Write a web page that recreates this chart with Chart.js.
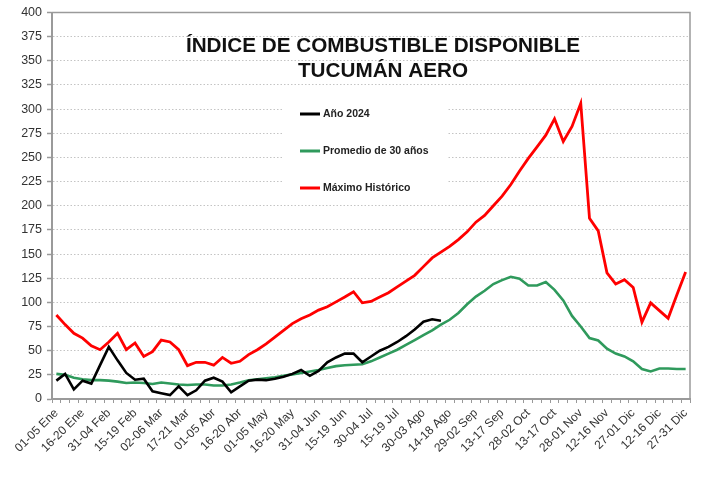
<!DOCTYPE html>
<html><head><meta charset="utf-8">
<script src="https://cdn.jsdelivr.net/npm/chart.js@4.4.1/dist/chart.umd.min.js"></script>
<style>html,body{margin:0;padding:0;background:#fff}#wrap{width:706px;height:477px;position:relative}</style>
</head><body><div id="wrap"><canvas id="c" width="706" height="477"></canvas></div>
<script>
// ---- categories (pentads) ----
const CATEGORIES = [
 '01-05 Ene','06-10 Ene','11-15 Ene','16-20 Ene','21-25 Ene','26-30 Ene',
 '31-04 Feb','05-09 Feb','10-14 Feb','15-19 Feb','20-24 Feb','25-01 Mar',
 '02-06 Mar','07-11 Mar','12-16 Mar','17-21 Mar','22-26 Mar','27-31 Mar',
 '01-05 Abr','06-10 Abr','11-15 Abr','16-20 Abr','21-25 Abr','26-30 Abr',
 '01-05 May','06-10 May','11-15 May','16-20 May','21-25 May','26-30 May',
 '31-04 Jun','05-09 Jun','10-14 Jun','15-19 Jun','20-24 Jun','25-29 Jun',
 '30-04 Jul','05-09 Jul','10-14 Jul','15-19 Jul','20-24 Jul','25-29 Jul',
 '30-03 Ago','04-08 Ago','09-13 Ago','14-18 Ago','19-23 Ago','24-28 Ago',
 '29-02 Sep','03-07 Sep','08-12 Sep','13-17 Sep','18-22 Sep','23-27 Sep',
 '28-02 Oct','03-07 Oct','08-12 Oct','13-17 Oct','18-22 Oct','23-27 Oct',
 '28-01 Nov','02-06 Nov','07-11 Nov','12-16 Nov','17-21 Nov','22-26 Nov',
 '27-01 Dic','02-06 Dic','07-11 Dic','12-16 Dic','17-21 Dic','22-26 Dic',
 '27-31 Dic'
];
const LABEL_EVERY = 3;
const Y_MIN = 0, Y_MAX = 400, Y_STEP = 25;
const TITLE_LINES = ['ÍNDICE DE COMBUSTIBLE DISPONIBLE', 'TUCUMÁN AERO'];
const SERIES_NAMES = ['Año 2024', 'Promedio de 30 años', 'Máximo Histórico'];

// ---- series values ----
const ANO_2024 = [19,26,10,19,16,35,54,40,27,20,21,8,6,4,13,4,9,19,22,18,7,13,19,20,19.5,21,23,26,30,24,29,38,43,47,47,38,44,50,54,59,65,72,80,82.5,81];
const PROMEDIO_30 = [26,25,22,20.5,19.5,19.5,19,18,16.5,17,16.5,15.5,17,16,15,14.5,15,15,14,14,15,17,19.5,20.5,21.5,22.5,24,25.5,27,28.5,30,32,34,35,35.5,36,39,43,47,51,56,61,66,71,77,82,89,98,106,112,119,123,126.5,124.5,117.5,117.5,121,113,102,86,75,63,60.5,52,47,44,39,31,28.5,31.5,31.5,31,31];
const MAXIMO_HIST = [87,77,68,63,55,51,59,68,51,58,44,49,61,59,51,34.5,38,38,35,43,37,39,46,51,57,64,71,78,83,87,92,95.5,100.5,105.5,111,99.5,101,105.5,110,116,122,128,137,146,152,158,165,173,183,190,200,210,222,236,249,261,273,290,266.5,282,306,187,174,130.5,119,123.5,115.5,79.5,99.5,91.5,83.5,108,131.5];

const COLORS = ['#000000', '#2f9a5c', '#ff0000'];

const overlay = {
  id: 'overlay',
  beforeDatasetsDraw(chart) {
    const ctx = chart.ctx, a = chart.chartArea;
    ctx.save();
    // legend box
    ctx.fillStyle = '#ffffff';
    ctx.fillRect(283, 92, 164, 108);
    const ys = [114, 151, 188];
    chart.data.datasets.forEach((ds, i) => {
      ctx.strokeStyle = ds.borderColor;
      ctx.lineWidth = 3;
      ctx.beginPath(); ctx.moveTo(300, ys[i]); ctx.lineTo(320, ys[i]); ctx.stroke();
      ctx.fillStyle = '#222';
      ctx.font = 'bold 10.5px "Liberation Sans", Arial, sans-serif';
      ctx.textBaseline = 'middle'; ctx.textAlign = 'left';
      ctx.fillText(ds.label, 323, ys[i] + 0.5);
    });
    // title
    ctx.fillStyle = '#111';
    ctx.font = 'bold 20.7px "Liberation Sans", Arial, sans-serif';
    ctx.textAlign = 'center'; ctx.textBaseline = 'alphabetic';
    ctx.fillText(TITLE_LINES[0], 383, 52);
    ctx.fillText(TITLE_LINES[1], 383, 77);
    // frame
    ctx.strokeStyle = '#9a9a9a';
    ctx.lineWidth = 1.5;
    ctx.strokeRect(a.left, a.top, a.right - a.left, a.bottom - a.top);
    ctx.restore();
  }
};

new Chart(document.getElementById('c'), {
  type: 'line',
  data: {
    labels: CATEGORIES,
    datasets: [
      { label: SERIES_NAMES[0], data: ANO_2024, borderColor: COLORS[0], borderWidth: 2.6 },
      { label: SERIES_NAMES[1], data: PROMEDIO_30, borderColor: COLORS[1], borderWidth: 2.6 },
      { label: SERIES_NAMES[2], data: MAXIMO_HIST, borderColor: COLORS[2], borderWidth: 2.8 }
    ]
  },
  options: {
    responsive: false,
    animation: false,
    devicePixelRatio: 1,
    layout: { padding: { top: 12, right: 16, bottom: 0, left: 0 } },
    elements: { point: { radius: 0 }, line: { tension: 0, fill: false } },
    plugins: { legend: { display: false }, title: { display: false }, tooltip: { enabled: false } },
    scales: {
      x: {
        type: 'category',
        offset: true,
        afterFit(s) { s.height = 78; },
        grid: { display: true, offset: true, drawOnChartArea: false, tickLength: 4, tickColor: '#999', tickWidth: 1 },
        border: { display: true, color: '#9a9a9a', width: 2 },
        ticks: {
          autoSkip: false, minRotation: 45, maxRotation: 45, padding: 3,
          color: '#333', font: { family: '"Liberation Sans", Arial, sans-serif', size: 12 },
          callback(v, i) { return i % LABEL_EVERY === 0 ? CATEGORIES[i] : ''; }
        }
      },
      y: {
        min: Y_MIN, max: Y_MAX,
        afterFit(s) { s.width = 52; },
        grid: { color: '#c4c4c4', lineWidth: 1, tickLength: 5, tickColor: '#999', tickWidth: 1.5, tickBorderDash: [] },
        border: { display: true, color: '#9a9a9a', width: 2, dash: [1.5, 2] },
        ticks: {
          stepSize: Y_STEP, padding: 5, color: '#333',
          font: { family: '"Liberation Sans", Arial, sans-serif', size: 12.5 }
        }
      }
    }
  },
  plugins: [overlay]
});
</script>
</body></html>
